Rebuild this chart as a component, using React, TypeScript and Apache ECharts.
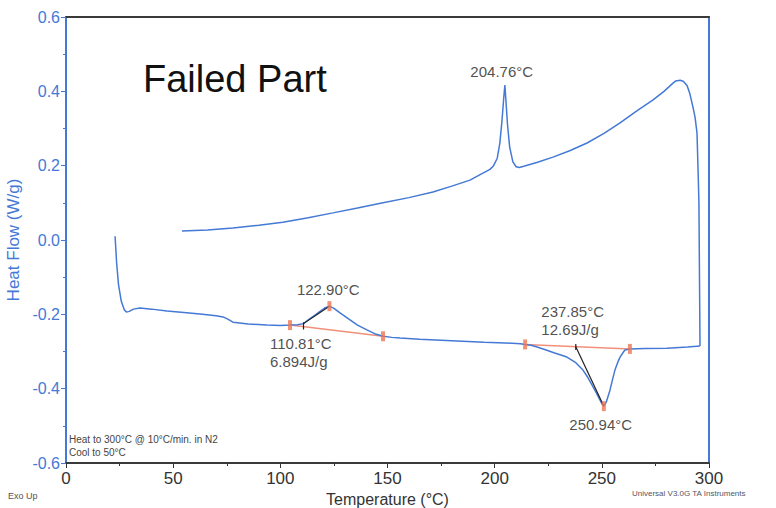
import React, { useEffect, useRef } from "react";
import * as echarts from "echarts";

// Heating run (temperature °C, heat flow W/g)
const heatT = [22.9, 23.6, 24.5, 25.8, 27.2, 28.2, 29.5, 31.5, 34.5, 40, 47.1, 55, 62.5, 70, 73.3, 75.5, 77.9, 85, 93.8, 100, 104.5, 108, 110.8, 113, 116, 119, 121, 122.9, 125, 128, 132.5, 136, 140.4, 144, 147.9, 152, 155.8, 165, 180, 195, 205, 212, 214.2, 217, 219.8, 224, 228, 233.7, 237.85, 241.2, 243.5, 245.9, 247.5, 249.1, 250.2, 250.94, 252, 253.8, 255, 256.1, 257.5, 258.5, 260, 260.8, 263.1, 270, 280.4, 290, 295.8];
const heatH = [0.01, -0.06, -0.12, -0.165, -0.188, -0.194, -0.192, -0.186, -0.183, -0.186, -0.191, -0.195, -0.199, -0.204, -0.207, -0.213, -0.221, -0.226, -0.229, -0.23, -0.229, -0.228, -0.225, -0.215, -0.203, -0.19, -0.182, -0.178, -0.184, -0.197, -0.215, -0.229, -0.242, -0.252, -0.259, -0.262, -0.264, -0.267, -0.271, -0.275, -0.277, -0.279, -0.281, -0.283, -0.288, -0.296, -0.304, -0.315, -0.33, -0.35, -0.37, -0.395, -0.412, -0.43, -0.442, -0.447, -0.437, -0.404, -0.375, -0.35, -0.328, -0.315, -0.302, -0.296, -0.293, -0.292, -0.291, -0.288, -0.285];

// Cooling run
const coolT = [295.8, 295.3, 294.9, 294.4, 293.5, 292.5, 291, 289.8, 288, 286.5, 284.5, 283.2, 279, 273.9, 266, 258.5, 251, 243.1, 235, 227.2, 220, 214, 211.5, 210, 208.5, 207, 206, 205.2, 204.76, 204.2, 203.4, 202.4, 201.2, 199.5, 197.8, 193, 188.5, 180, 171.2, 160, 147.9, 136, 124.6, 113, 101.2, 90, 77.9, 66, 54.1];
const coolH = [-0.285, 0.1, 0.188, 0.288, 0.33, 0.358, 0.395, 0.415, 0.427, 0.43, 0.428, 0.422, 0.4, 0.377, 0.346, 0.315, 0.287, 0.261, 0.24, 0.223, 0.209, 0.199, 0.195, 0.197, 0.21, 0.25, 0.31, 0.38, 0.417, 0.38, 0.32, 0.26, 0.22, 0.2, 0.19, 0.175, 0.161, 0.145, 0.129, 0.114, 0.1, 0.086, 0.073, 0.06, 0.048, 0.04, 0.032, 0.027, 0.024];

// Analysis marks
const markerT = [104.5, 147.9, 214.2, 263.1, 122.9, 250.94];
const markerH = [-0.229, -0.259, -0.281, -0.293, -0.178, -0.447];
const baselineSegments = [
  [[104.5, -0.229], [147.9, -0.259]],
  [[214.2, -0.281], [263.1, -0.293]],
];
const connectorSegments = [
  [[122.9, -0.178], [110.81, -0.225]],
  [[110.81, -0.221], [110.81, -0.241]],
  [[250.94, -0.447], [237.85, -0.287]],
  [[237.85, -0.28], [237.85, -0.296]],
];

// Annotation texts anchored at data points
const annoText = ["204.76°C", "122.90°C", "110.81°C\n6.894J/g", "237.85°C\n12.69J/g", "250.94°C"];
const annoT = [204.76, 122.9, 110.81, 237.85, 250.94];
const annoH = [0.417, -0.178, -0.225, -0.287, -0.447];
const annoOffset = [[-34, -22], [-32, -25], [-33, 11], [-34, -44], [-34, 10]];

const xTicks = [0, 50, 100, 150, 200, 250, 300];
const yTicks = [-0.6, -0.4, -0.2, 0.0, 0.2, 0.4, 0.6];

const BLUE = "#4479d6";
const FONT = "Liberation Sans, Arial, sans-serif";

export default function App() {
  const ref = useRef<HTMLDivElement>(null);
  useEffect(() => {
    const chart = echarts.init(ref.current!, null, { renderer: "svg" });
    const lineSeries = (data: number[][], color: string, width: number, z = 2) => ({
      type: "line",
      data,
      showSymbol: false,
      symbol: "none",
      lineStyle: { color, width },
      z,
      silent: true,
    });
    const option: any = {
      animation: false,
      textStyle: { fontFamily: FONT },
      grid: { left: 66, top: 17, right: 67, bottom: 45, containLabel: false, outerBoundsMode: "none" },
      xAxis: [
        {
          type: "value",
          min: xTicks[0],
          max: xTicks[xTicks.length - 1],
          interval: 50,
          name: "Temperature (°C)",
          nameLocation: "middle",
          nameGap: 24,
          nameTextStyle: { fontSize: 16, color: "#333", fontFamily: FONT },
          axisLine: { onZero: false, lineStyle: { color: "#3a3a3a", width: 2 } },
          axisTick: { show: true, length: 5, lineStyle: { color: "#333" } },
          minorTick: { show: true, splitNumber: 2, length: 3, lineStyle: { color: "#333" } },
          axisLabel: { fontSize: 17, color: "#333", margin: 7, fontFamily: FONT },
          splitLine: { show: false },
        },
        {
          type: "value",
          position: "top",
          min: 0,
          max: 300,
          axisLine: { show: true, onZero: false, lineStyle: { color: "#3a3a3a", width: 2 } },
          axisTick: { show: false },
          axisLabel: { show: false },
          splitLine: { show: false },
        },
      ],
      yAxis: [
        {
          type: "value",
          min: yTicks[0],
          max: yTicks[yTicks.length - 1],
          interval: 0.2,
          name: "Heat Flow (W/g)",
          nameLocation: "middle",
          nameGap: 44,
          nameTextStyle: { fontSize: 17, color: BLUE, fontFamily: FONT },
          axisLine: { show: true, onZero: false, lineStyle: { color: BLUE, width: 2 } },
          axisTick: { show: true, length: 5, lineStyle: { color: BLUE } },
          minorTick: { show: true, splitNumber: 2, length: 3, lineStyle: { color: BLUE } },
          axisLabel: {
            fontSize: 16,
            color: BLUE,
            margin: 6,
            fontFamily: FONT,
            formatter: (v: number) => v.toFixed(1),
          },
          splitLine: { show: false },
        },
        {
          type: "value",
          position: "right",
          min: -0.6,
          max: 0.6,
          axisLine: { show: true, onZero: false, lineStyle: { color: BLUE, width: 2 } },
          axisTick: { show: false },
          axisLabel: { show: false },
          splitLine: { show: false },
        },
      ],
      series: [
        lineSeries(heatT.map((t, i) => [t, heatH[i]]), BLUE, 1.5, 3),
        lineSeries(coolT.map((t, i) => [t, coolH[i]]), BLUE, 1.5, 3),
        ...baselineSegments.map((s) => lineSeries(s, "#f0907a", 1.5, 2)),
        ...connectorSegments.map((s) => lineSeries(s, "#222", 1.2, 4)),
        {
          type: "scatter",
          data: markerT.map((t, i) => [t, markerH[i]]),
          symbol: "rect",
          symbolSize: [4, 10],
          itemStyle: { color: "#ee7755" },
          z: 5,
          silent: true,
        },
        {
          type: "scatter",
          data: annoT.map((t, i) => ({
            value: [t, annoH[i]],
            label: {
              show: true,
              formatter: annoText[i],
              position: annoOffset[i],
              align: "left",
              verticalAlign: "top",
              fontSize: 15,
              lineHeight: 18,
              color: "#222",
              fontFamily: FONT,
            },
          })),
          symbolSize: 1,
          itemStyle: { color: "rgba(0,0,0,0)" },
          z: 6,
          silent: true,
        },
      ],
      graphic: [
        {
          type: "text",
          left: 143,
          top: 60,
          style: { text: "Failed Part", fontSize: 38, fill: "#111", fontFamily: FONT },
        },
        {
          type: "text",
          left: 69,
          top: 433,
          style: {
            text: "Heat to 300°C @ 10°C/min. in N2\nCool to 50°C",
            fontSize: 10,
            lineHeight: 13,
            fill: "#444",
            fontFamily: FONT,
          },
        },
        {
          type: "text",
          left: 8,
          top: 491,
          style: { text: "Exo Up", fontSize: 9, fill: "#555", fontFamily: FONT },
        },
        {
          type: "text",
          left: 632,
          top: 489,
          style: { text: "Universal V3.0G TA Instruments", fontSize: 8, fill: "#556", fontFamily: FONT },
        },
      ],
    };
    chart.setOption(option);
    return () => chart.dispose();
  }, []);
  return (
    <div
      ref={ref}
      style={{ position: "fixed", left: 0, top: 0, width: 776, height: 508, background: "#fff" }}
    />
  );
}
